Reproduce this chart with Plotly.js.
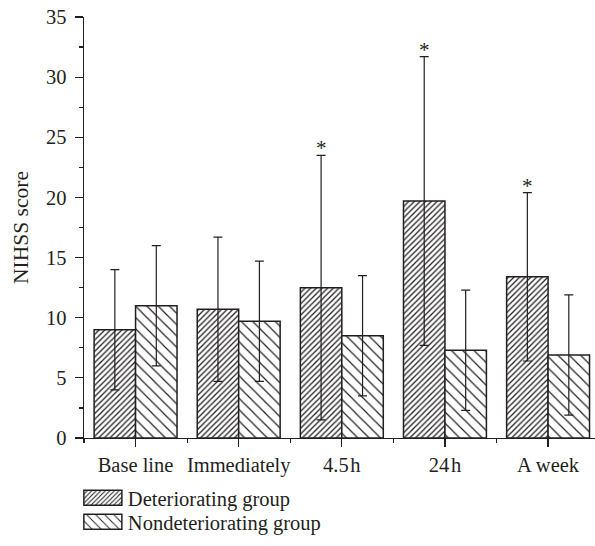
<!DOCTYPE html>
<html>
<head>
<meta charset="utf-8">
<script src="https://cdn.plot.ly/plotly-3.0.1.min.js"></script>
<style>
html,body{margin:0;padding:0;background:#fff;}
#chart{width:595px;height:546px;}
</style>
</head>
<body>
<div id="chart"></div>
<script>
// ---- data ----
const categories = ["Base line", "Immediately", "4.5\u200ah", "24\u200ah", "A week"];
const deteriorating = [9.0, 10.7, 12.5, 19.7, 13.4];
const deterioratingSD = [5.0, 6.0, 11.0, 12.0, 7.0];
const nondeteriorating = [11.0, 9.7, 8.5, 7.3, 6.9];
const nondeterioratingSD = [5.0, 5.0, 5.0, 5.0, 5.0];
const significant = [false, false, true, true, true];
const yTicks = [0, 5, 10, 15, 20, 25, 30, 35];

const ink = '#231f20';
const font = 'Liberation Serif, Times New Roman, serif';
const fs = 20.5;
const idx = categories.map((c, i) => i);

const traceD = {
  type: 'bar', name: 'Deteriorating group', legend: 'legend',
  x: idx, y: deteriorating,
  error_y: {type: 'data', array: deterioratingSD, visible: true, color: ink, thickness: 1.2, width: 4.5},
  marker: {color: 'white', line: {color: ink, width: 1.5},
           pattern: {shape: '/', size: 4, solidity: 0.32, fgcolor: ink, bgcolor: 'white', fillmode: 'replace'}}
};
const traceN = {
  type: 'bar', name: 'Nondeteriorating group', legend: 'legend2',
  x: idx, y: nondeteriorating,
  error_y: {type: 'data', array: nondeterioratingSD, visible: true, color: ink, thickness: 1.2, width: 4.5},
  marker: {color: 'white', line: {color: ink, width: 1.5},
           pattern: {shape: '\\', size: 8, solidity: 0.15, fgcolor: ink, bgcolor: 'white', fillmode: 'replace'}}
};

const annotations = [];
categories.forEach((c, i) => {
  if (significant[i]) {
    annotations.push({
      x: i, y: deteriorating[i] + deterioratingSD[i], xref: 'x', yref: 'y',
      xshift: -20.7, yshift: -7, yanchor: 'bottom', showarrow: false,
      text: '*', font: {family: font, size: 21, color: ink}
    });
  }
});

const legendBase = {orientation: 'v', x: -0.012, xanchor: 'left', yref: 'container', yanchor: 'middle',
  itemwidth: 40, font: {family: font, size: fs, color: ink}, bgcolor: 'rgba(0,0,0,0)', itemclick: false};

const layout = {
  width: 595, height: 546,
  margin: {l: 84, r: 0, t: 17, b: 108.3, pad: 0},
  paper_bgcolor: 'white', plot_bgcolor: 'white',
  font: {family: font, size: fs, color: ink},
  barmode: 'group', bargap: 0.196, bargroupgap: 0,
  showlegend: true,
  legend: Object.assign({}, legendBase, {y: (546 - 498) / 546}),
  legend2: Object.assign({}, legendBase, {y: (546 - 522) / 546}),
  xaxis: {
    type: 'linear', range: [-0.5, 4.455], tickmode: 'array', tickvals: idx, ticktext: categories,
    showline: true, linecolor: ink, linewidth: 1.3, showgrid: false, zeroline: false,
    ticks: 'outside', ticklen: 8, tickwidth: 1.2, tickcolor: ink,
    minor: {tickmode: 'linear', tick0: 0.5, dtick: 1, ticks: 'outside', ticklen: 4, tickwidth: 1.2, tickcolor: ink, showgrid: false},
    tickfont: {family: font, size: fs, color: ink}, fixedrange: true
  },
  yaxis: {
    range: [0, 35], tickmode: 'array', tickvals: yTicks,
    showline: true, linecolor: ink, linewidth: 1.3, showgrid: false, zeroline: false,
    ticks: 'outside', ticklen: 8, tickwidth: 1.2, tickcolor: ink, ticklabelstandoff: 4,
    minor: {tickmode: 'linear', tick0: 2.5, dtick: 5, ticks: 'outside', ticklen: 4, tickwidth: 1.2, tickcolor: ink, showgrid: false},
    title: {text: 'NIHSS score', font: {family: font, size: 21.5, color: ink}, standoff: 11},
    tickfont: {family: font, size: fs, color: ink}, fixedrange: true
  },
  annotations: annotations
};

Plotly.newPlot('chart', [traceD, traceN], layout, {staticPlot: true, displayModeBar: false}).then(gd => {
  // widen legend swatches to match the reference's rectangular keys
  gd.querySelectorAll('.legendpoints path').forEach(p => {
    p.setAttribute('d', 'M19,7.5H-19V-7.5H19Z');
  });
});
</script>
</body>
</html>
